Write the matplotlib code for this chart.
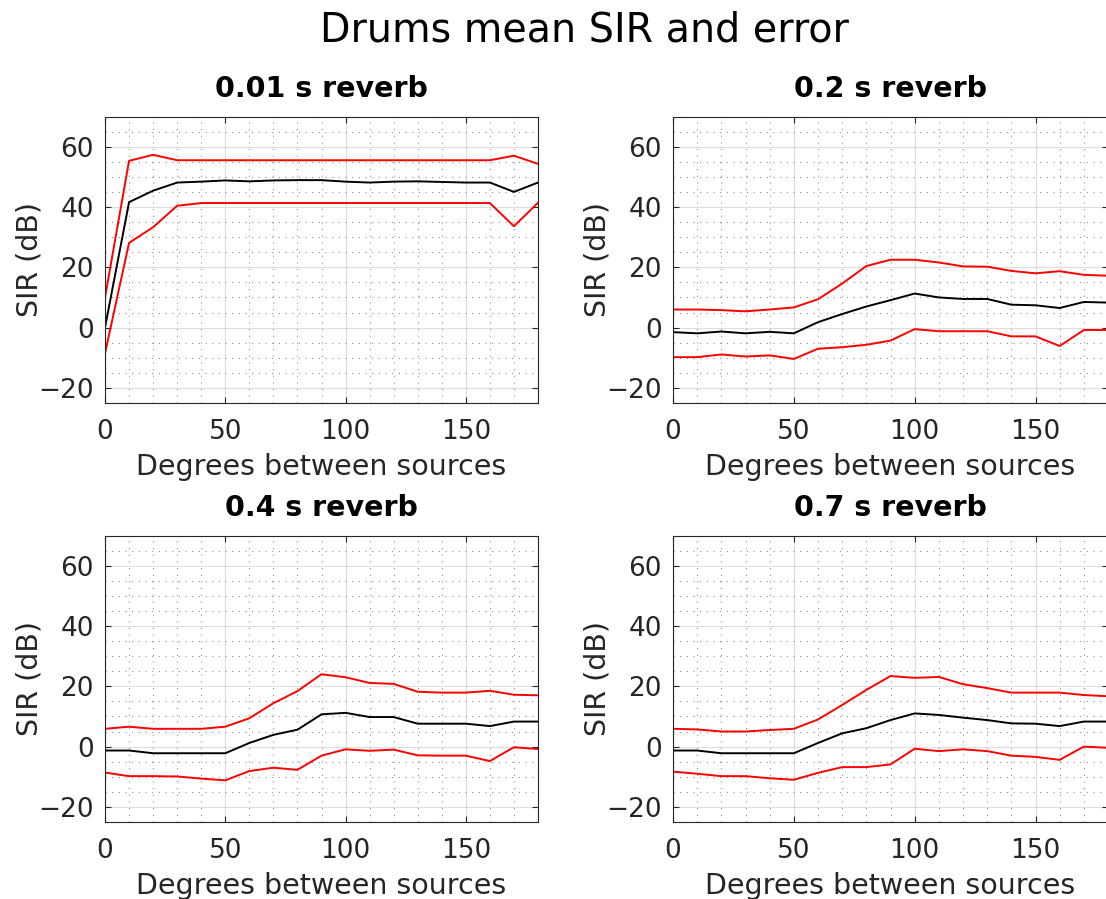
import matplotlib
matplotlib.use("Agg")
import matplotlib.pyplot as plt
import numpy as np

plt.rcParams["font.family"] = ["DejaVu Sans"]

# Angular separation between the two sources (degrees)
degrees = [0, 10, 20, 30, 40, 50, 60, 70, 80, 90, 100, 110, 120, 130, 140, 150, 160, 170, 180]

panel_titles = ["0.01 s reverb", "0.2 s reverb", "0.4 s reverb", "0.7 s reverb"]

# 0.01 s reverb
mean_001 = [0.0, 41.6, 45.4, 48.1, 48.4, 48.8, 48.5, 48.8, 48.9, 48.9, 48.4, 48.1, 48.4, 48.5, 48.3, 48.1, 48.1, 45.0, 48.1]
upper_001 = [10.0, 55.3, 57.3, 55.5, 55.5, 55.5, 55.5, 55.5, 55.5, 55.5, 55.5, 55.5, 55.5, 55.5, 55.5, 55.5, 55.5, 57.0, 54.3]
lower_001 = [-8.5, 28.1, 33.3, 40.4, 41.3, 41.3, 41.3, 41.3, 41.3, 41.3, 41.3, 41.3, 41.3, 41.3, 41.3, 41.3, 41.3, 33.6, 41.4]

# 0.2 s reverb
mean_02 = [-1.5, -1.9, -1.3, -1.9, -1.4, -1.9, 1.8, 4.5, 7.0, 9.1, 11.3, 10.0, 9.5, 9.5, 7.6, 7.4, 6.5, 8.5, 8.3]
upper_02 = [6.0, 6.0, 5.8, 5.4, 6.0, 6.7, 9.4, 14.6, 20.4, 22.5, 22.5, 21.6, 20.3, 20.2, 18.8, 18.0, 18.7, 17.5, 17.2]
lower_02 = [-9.8, -9.8, -8.9, -9.6, -9.2, -10.4, -7.0, -6.5, -5.7, -4.3, -0.5, -1.2, -1.2, -1.2, -2.9, -2.9, -6.1, -0.8, -0.8]

# 0.4 s reverb
mean_04 = [-1.3, -1.3, -2.2, -2.2, -2.2, -2.2, 1.2, 3.9, 5.6, 10.7, 11.2, 9.8, 9.8, 7.6, 7.6, 7.6, 6.8, 8.3, 8.3]
upper_04 = [5.9, 6.6, 5.9, 5.9, 5.9, 6.6, 9.4, 14.4, 18.4, 24.0, 23.0, 21.1, 20.8, 18.2, 17.9, 17.9, 18.5, 17.2, 17.0]
lower_04 = [-8.6, -9.8, -9.8, -9.9, -10.6, -11.2, -8.1, -7.0, -7.7, -3.0, -0.9, -1.4, -1.0, -2.9, -3.0, -3.0, -4.8, -0.2, -0.8]

# 0.7 s reverb
mean_07 = [-1.3, -1.3, -2.2, -2.2, -2.2, -2.2, 1.2, 4.4, 6.1, 8.8, 11.0, 10.5, 9.6, 8.8, 7.7, 7.6, 6.8, 8.3, 8.3]
upper_07 = [5.9, 5.7, 5.0, 5.0, 5.5, 5.9, 9.0, 13.8, 18.8, 23.4, 22.8, 23.1, 20.7, 19.4, 17.9, 17.9, 17.9, 17.1, 16.7]
lower_07 = [-8.3, -9.0, -9.8, -9.8, -10.5, -11.0, -8.7, -6.8, -6.8, -5.9, -0.7, -1.5, -0.9, -1.5, -3.0, -3.4, -4.4, 0.0, -0.4]

means = [mean_001, mean_02, mean_04, mean_07]
uppers = [upper_001, upper_02, upper_04, upper_07]
lowers = [lower_001, lower_02, lower_04, lower_07]

x_major = [0, 50, 100, 150]
y_major = [-20, 0, 20, 40, 60]

W, H = 1106, 899
fig = plt.figure(figsize=(W / 100, H / 100), dpi=100)

# axes boxes in pixels: (left, top, right, bottom)
boxes = [
    (105, 116.5, 538, 403),
    (673, 116.5, 1108, 403),
    (105, 535.5, 538, 822),
    (673, 535.5, 1108, 822),
]

ink = "#262626"

for i, (l, t, r, b) in enumerate(boxes):
    ax = fig.add_axes([l / W, 1 - b / H, (r - l) / W, (b - t) / H])
    ax.plot(degrees, uppers[i], color="red", lw=1.4)
    ax.plot(degrees, means[i], color="black", lw=1.4)
    ax.plot(degrees, lowers[i], color="red", lw=1.4)

    ax.set_xlim(0, 180)
    ax.set_ylim(-25, 70)
    ax.set_xticks(x_major)
    ax.set_yticks(y_major)
    ax.set_xticks(np.arange(0, 181, 10), minor=True)
    ax.set_yticks(np.arange(-25, 71, 5), minor=True)

    ax.grid(which="major", color=ink, alpha=0.15, lw=0.8, linestyle="-")
    ax.grid(which="minor", color=ink, alpha=0.5, lw=0.8, linestyle=(0, (1, 5)))
    ax.set_axisbelow(True)

    ax.tick_params(which="major", direction="in", top=True, right=True,
                   length=4, width=0.8, color=ink, labelcolor=ink,
                   labelsize=19)
    ax.tick_params(axis="x", which="major", pad=11.5)
    ax.tick_params(axis="y", which="major", pad=8)
    ax.tick_params(which="minor", length=0)
    for s in ax.spines.values():
        s.set_color(ink)
        s.set_linewidth(0.8)

    ax.set_title(panel_titles[i], fontsize=20.5, fontweight="bold", pad=14)
    ax.set_xlabel("Degrees between sources", fontsize=20.5, color=ink, labelpad=5.5)
    ax.set_ylabel("SIR (dB)", fontsize=20.5, color=ink, labelpad=-4)

fig.suptitle("Drums mean SIR and error", fontsize=28.5, x=584 / W,
             y=1 - 30 / H, va="center")

fig.savefig("out.png", dpi=100)
